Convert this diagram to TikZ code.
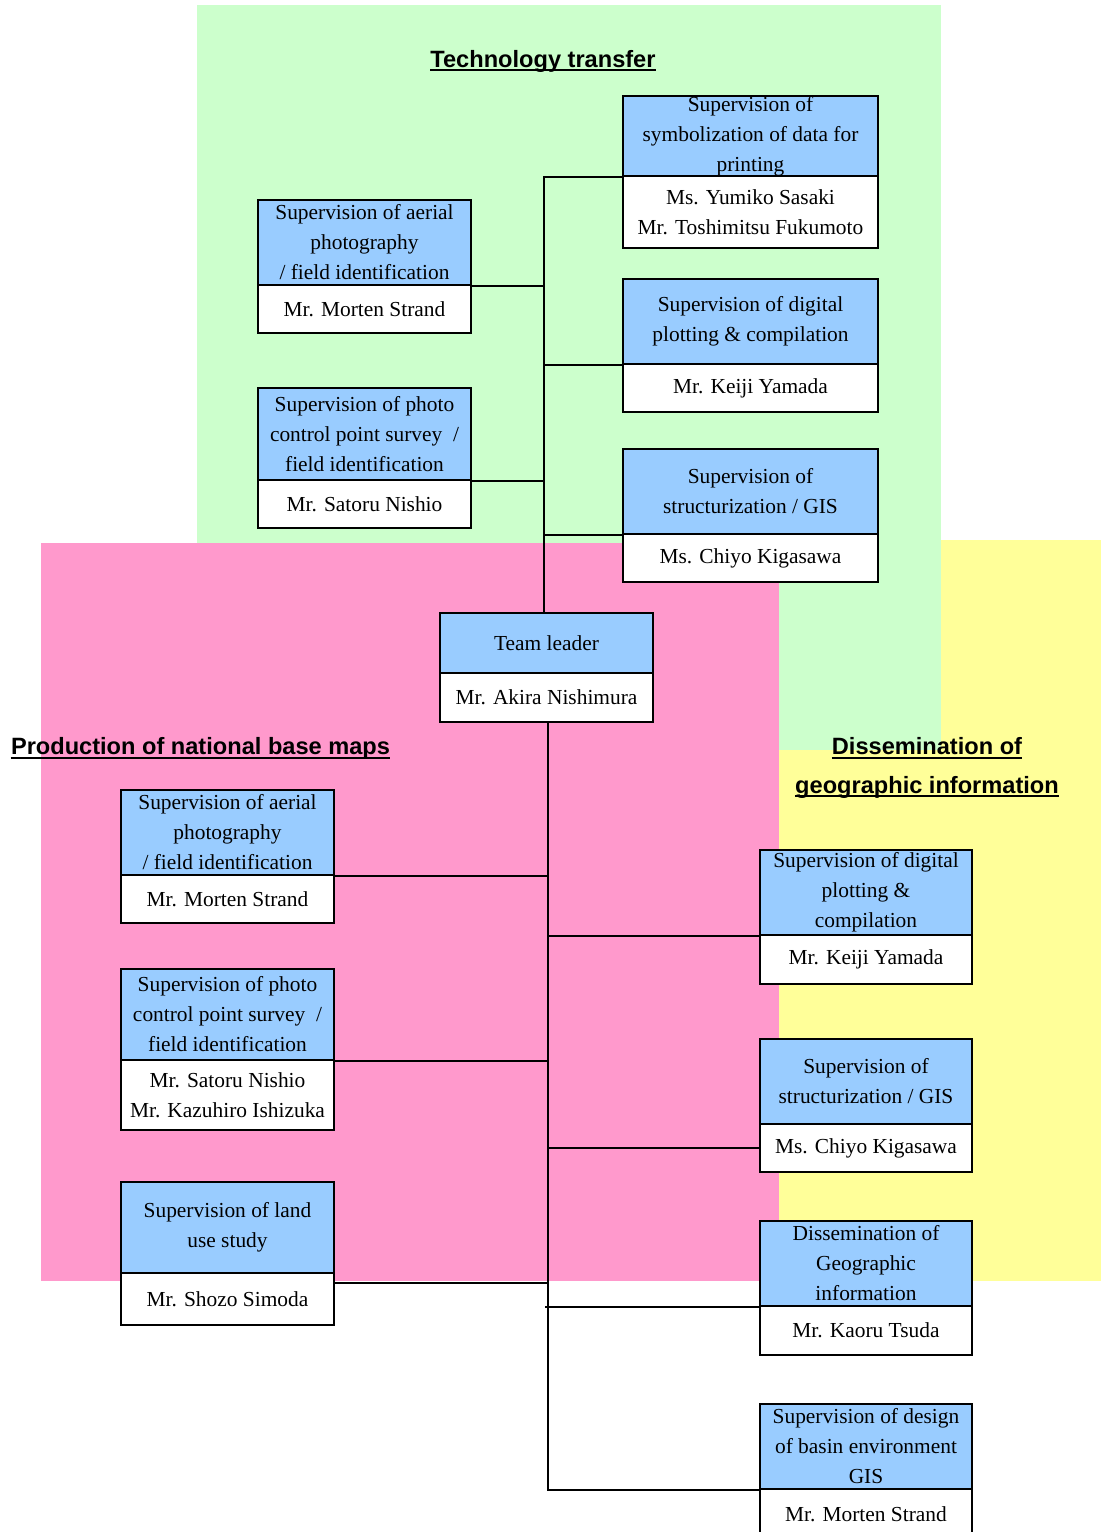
\documentclass[tikz,border=0pt]{standalone}
\usepackage{fontspec}
\setmainfont{Liberation Serif}
\newfontfamily\headfont{Liberation Sans}
\definecolor{zonegreen}{HTML}{CCFFCC}
\definecolor{zonepink}{HTML}{FF99CC}
\definecolor{zoneyellow}{HTML}{FFFF99}
\definecolor{roleblue}{HTML}{99CCFF}
\begin{document}
\begin{tikzpicture}[x=0.5pt,y=-0.5pt,
  box/.style={draw=black, line width=1pt, inner sep=0pt, align=center,
              font=\fontsize{10.7}{15}\selectfont},
  role/.style={box, fill=roleblue},
  person/.style={box, fill=white},
  narrow/.style={minimum width=106.5pt},
  wide/.style={minimum width=127.5pt},
  side/.style={minimum width=106pt},
  zonetitle/.style={font=\headfont\bfseries\fontsize{11.8}{19.5}\selectfont,
                    anchor=base, inner sep=0pt},
  rulebar/.style={line width=1pt},
  link/.style={line width=1pt},
  trunk/.style={line width=1.3pt}]
\useasboundingbox (0,0) rectangle (1101,1532);

% coloured zones
\fill[zoneyellow] (720,540) rectangle (1101,1281);
\fill[zonegreen] (197,5) rectangle (941,750);
\fill[zonepink] (41,543) rectangle (779,1281);

% zone titles, each underlined just below its baseline
\node[zonetitle] (ttech) at (543,67) {Technology transfer};
\node[zonetitle] (tprod) at (200.5,754.5) {Production of national base maps};
\node[zonetitle] (tdiss1) at (927,754.5) {Dissemination of};
\node[zonetitle] (tdiss2) at (927,793) {geographic information};
\foreach \t in {ttech,tprod,tdiss1,tdiss2}
  \draw[rulebar] ([yshift=-1.6pt]\t.base west) -- ([yshift=-1.6pt]\t.base east);

% technology transfer
\node[role, narrow, minimum height=42.5pt] (b1h) at (364.5,242.5) {Supervision of aerial\\photography\\/ field identification};
\node[person, narrow, minimum height=24pt] (b1n) at (364.5,309) {Mr. Morten Strand};
\node[role, narrow, minimum height=46pt] (b2h) at (364.5,434) {Supervision of photo\\control point survey\ \ /\\field identification};
\node[person, narrow, minimum height=24pt] (b2n) at (364.5,504) {Mr. Satoru Nishio};
\node[role, wide, minimum height=40pt] (b3h) at (750.5,136) {Supervision of\\symbolization of data for\\printing};
\node[person, wide, minimum height=36pt] (b3n) at (750.5,212) {Ms. Yumiko Sasaki\\Mr. Toshimitsu Fukumoto};
\node[role, wide, minimum height=42.5pt] (b4h) at (750.5,321.5) {Supervision of digital\\plotting \& compilation};
\node[person, wide, minimum height=24pt] (b4n) at (750.5,388) {Mr. Keiji Yamada};
\node[role, wide, minimum height=42.5pt] (b5h) at (750.5,491.5) {Supervision of\\structurization / GIS};
\node[person, wide, minimum height=24pt] (b5n) at (750.5,558) {Ms. Chiyo Kigasawa};

% team leader
\node[role, narrow, minimum height=30pt] (tlh) at (546.5,643) {Team leader};
\node[person, narrow, minimum height=24.5pt] (tln) at (546.5,697.5) {Mr. Akira Nishimura};

% production of national base maps
\node[role, narrow, minimum height=42.5pt] (c1h) at (227.5,832.5) {Supervision of aerial\\photography\\/ field identification};
\node[person, narrow, minimum height=24pt] (c1n) at (227.5,899) {Mr. Morten Strand};
\node[role, narrow, minimum height=45.5pt] (c2h) at (227.5,1014.5) {Supervision of photo\\control point survey\ \ /\\field identification};
\node[person, narrow, minimum height=35pt] (c2n) at (227.5,1095) {Mr. Satoru Nishio\\Mr. Kazuhiro Ishizuka};
\node[role, narrow, minimum height=45.5pt] (c3h) at (227.5,1227.5) {Supervision of land\\use study};
\node[person, narrow, minimum height=26pt] (c3n) at (227.5,1299) {Mr. Shozo Simoda};

% dissemination of geographic information
\node[role, side, minimum height=42.5pt] (d1h) at (866,892.5) {Supervision of digital\\plotting \&\\compilation};
\node[person, side, minimum height=24.5pt] (d1n) at (866,959.5) {Mr. Keiji Yamada};
\node[role, side, minimum height=42.5pt] (d2h) at (866,1081.5) {Supervision of\\structurization / GIS};
\node[person, side, minimum height=24pt] (d2n) at (866,1148) {Ms. Chiyo Kigasawa};
\node[role, side, minimum height=42.5pt] (d3h) at (866,1263.5) {Dissemination of\\Geographic\\information};
\node[person, side, minimum height=24.5pt] (d3n) at (866,1330.5) {Mr. Kaoru Tsuda};
\node[role, side, minimum height=42.5pt] (d4h) at (866,1446.5) {Supervision of design\\of basin environment\\GIS};
\node[person, side, minimum height=25pt] (d4n) at (866,1514) {Mr. Morten Strand};

% upper tree
\coordinate (ttop) at (544,176);
\draw[trunk] (ttop) -- (ttop |- tlh.north);
\draw[link] (b1h.south east) -- (b1h.south east -| ttop);
\draw[link] (b2h.south east) -- (b2h.south east -| ttop);
\draw[link] (b3h.south west) -- (b3h.south west -| ttop);
\draw[link] (b4h.south west) -- (b4h.south west -| ttop);
\draw[link] (b5h.south west) -- (b5h.south west -| ttop);

% lower tree
\coordinate (ltop) at (548,722);
\draw[trunk] (ltop) |- (d4h.south west);
\draw[link] (c1h.south east) -- (c1h.south east -| ltop);
\draw[link] (c2h.south east) -- (c2h.south east -| ltop);
\draw[link] ([yshift=-4.5pt]c3h.south east) -- ([yshift=-4.5pt]c3h.south east -| ltop);
\draw[link] (d1h.south west) -- (d1h.south west -| ltop);
\draw[link] (d2n.west) -- (d2n.west -| ltop);
\draw[link] (d3h.south west) -- ([xshift=-1.5pt]d3h.south west -| ltop);
\end{tikzpicture}
\end{document}
